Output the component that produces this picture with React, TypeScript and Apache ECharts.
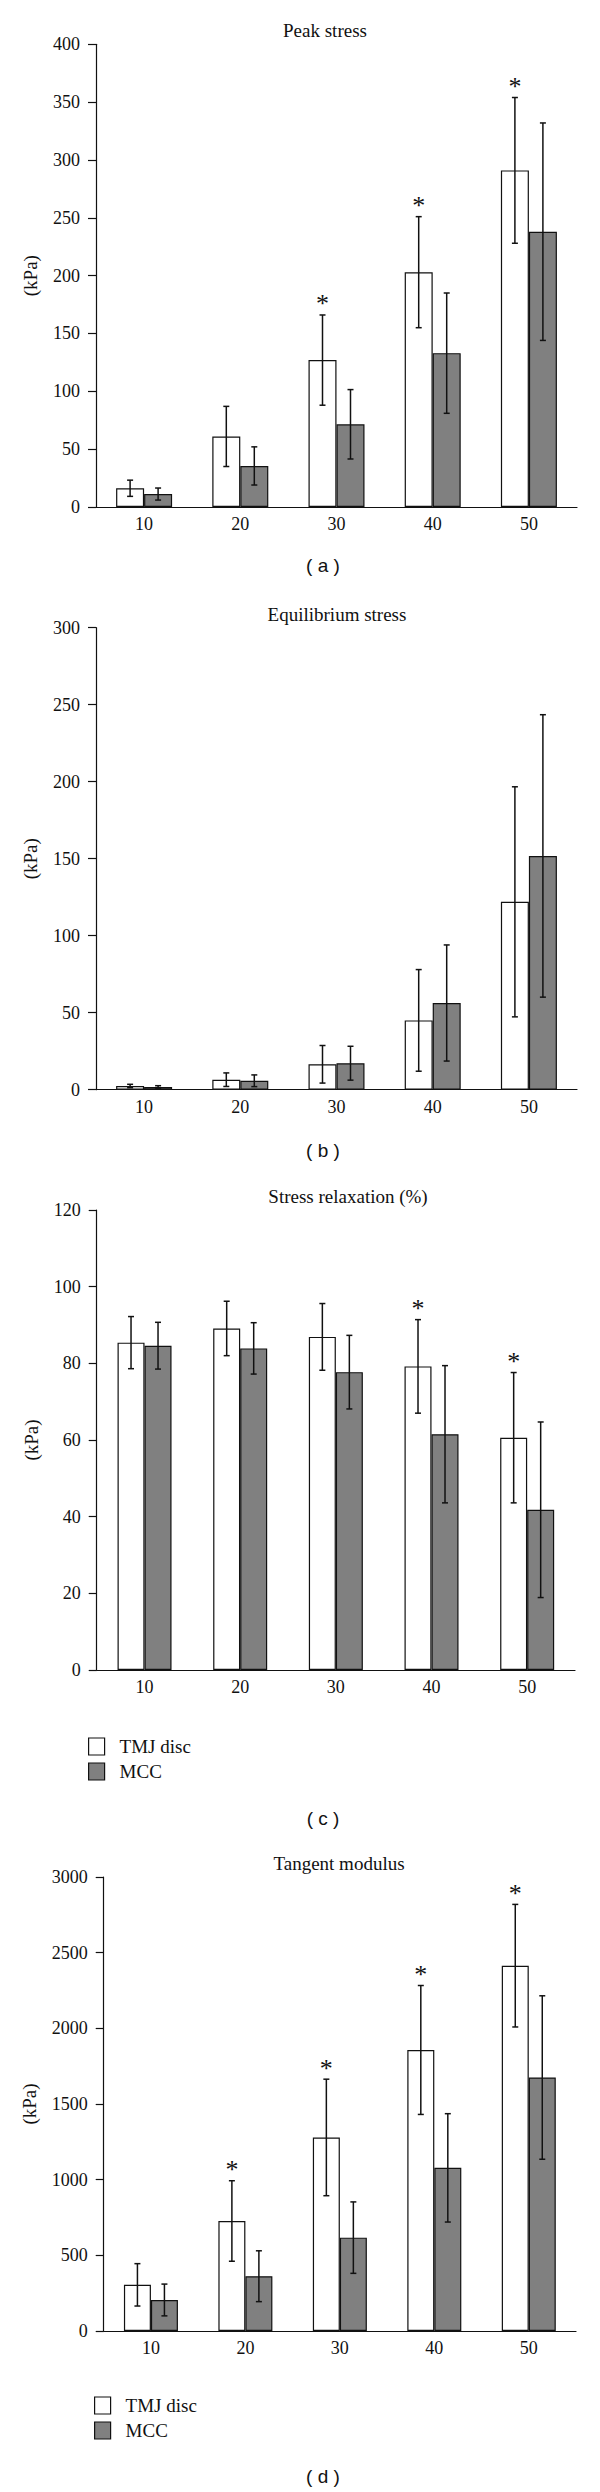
import React, { useEffect, useRef } from "react";
import * as echarts from "echarts";

// ---- data ----
const categories = ["10", "20", "30", "40", "50"];

const peakTMJ = [16.2, 61, 127, 203, 291];
const peakTMJSd = [7, 26, 39, 48, 63];
const peakMCC = [11.2, 35.5, 71.5, 133, 238];
const peakMCCSd = [5.2, 16.5, 30, 52, 94];
const peakStars = [0, 0, 1, 1, 1];

const eqTMJ = [2.4, 6.5, 16.5, 45, 122];
const eqTMJSd = [1.1, 4.4, 12.2, 33, 74.7];
const eqMCC = [1.7, 5.8, 17.2, 56.3, 151.8];
const eqMCCSd = [0.9, 3.8, 11, 37.7, 91.7];
const eqStars = [0, 0, 0, 0, 0];

const relTMJ = [85.4, 89.1, 86.9, 79.2, 60.6];
const relTMJSd = [6.8, 7.1, 8.7, 12.2, 17];
const relMCC = [84.6, 83.9, 77.7, 61.5, 41.8];
const relMCCSd = [6.1, 6.7, 9.6, 17.9, 22.9];
const relStars = [0, 0, 0, 1, 1];

const tanTMJ = [305, 727, 1279, 1857, 2414];
const tanTMJSd = [140, 266, 385, 426, 405];
const tanMCC = [205, 362, 617, 1078, 1675];
const tanMCCSd = [105, 168, 236, 358, 540];
const tanStars = [0, 1, 1, 1, 1];

const titles = ["Peak stress", "Equilibrium stress", "Stress relaxation (%)", "Tangent modulus"];
const panelLabels = ["( a )", "( b )", "( c )", "( d )"];
const yMax = [400, 300, 120, 3000];
const yInterval = [50, 50, 20, 500];
const seriesNames = ["TMJ disc", "MCC"];

// ---- layout ----
const SERIF = '"Liberation Serif", "Times New Roman", serif';
const SANS = '"Liberation Sans", Arial, sans-serif';
const INK = "#111111";

const panels = [
  { tmj: peakTMJ, tmjSd: peakTMJSd, mcc: peakMCC, mccSd: peakMCCSd, stars: peakStars,
    grid: { left: 96, width: 481, top: 44.3, height: 462.7 }, titleX: 325, titleY: 30, labelY: 565, nameGap: 56, barW: 28 },
  { tmj: eqTMJ, tmjSd: eqTMJSd, mcc: eqMCC, mccSd: eqMCCSd, stars: eqStars,
    grid: { left: 96, width: 481, top: 627.7, height: 462 }, titleX: 337, titleY: 614, labelY: 1150, nameGap: 56, barW: 28 },
  { tmj: relTMJ, tmjSd: relTMJSd, mcc: relMCC, mccSd: relMCCSd, stars: relStars,
    grid: { left: 96.7, width: 478.3, top: 1210, height: 460 }, titleX: 348, titleY: 1196, labelY: 1818, nameGap: 56, barW: 27 },
  { tmj: tanTMJ, tmjSd: tanTMJSd, mcc: tanMCC, mccSd: tanMCCSd, stars: tanStars,
    grid: { left: 103.7, width: 472.3, top: 1877, height: 454 }, titleX: 339, titleY: 1863, labelY: 2476, nameGap: 65, barW: 27 },
];

function errSeries(gi: number, means: number[], sds: number[], stars: number[], sign: number, barW: number) {
  return {
    type: "custom",
    xAxisIndex: gi,
    yAxisIndex: gi,
    z: 10,
    silent: true,
    encode: { x: 0, y: 1 },
    data: means.map((m, i) => [i, m, sds[i], stars[i]]),
    renderItem: (params: any, api: any) => {
      const i = api.value(0);
      const m = api.value(1);
      const sd = api.value(2);
      const st = api.value(3);
      const x = api.coord([i, m])[0] + (sign * barW) / 2;
      const yT = api.coord([i, m + sd])[1];
      const yB = api.coord([i, Math.max(m - sd, 0)])[1];
      const cap = 3;
      const style = { stroke: INK, lineWidth: 1.5 };
      const children: any[] = [
        { type: "line", shape: { x1: x, y1: yT, x2: x, y2: yB }, style },
        { type: "line", shape: { x1: x - cap, y1: yT, x2: x + cap, y2: yT }, style },
        { type: "line", shape: { x1: x - cap, y1: yB, x2: x + cap, y2: yB }, style },
      ];
      if (st) {
        children.push({
          type: "text",
          x: x,
          y: yT - 11,
          style: { text: "*", fontSize: 26, fontFamily: SERIF, fill: INK, align: "center", verticalAlign: "middle" },
        });
      }
      return { type: "group", children };
    },
  };
}

export default function App() {
  const ref = useRef<HTMLDivElement>(null);
  useEffect(() => {
    if (!ref.current) return;
    const chart = echarts.init(ref.current, null, { renderer: "svg" });

    const grid = panels.map((p) => ({ ...p.grid }));
    const xAxis = panels.map((p, gi) => ({
      type: "category",
      gridIndex: gi,
      data: categories,
      axisLine: { show: true, lineStyle: { color: INK, width: 1.2 } },
      axisTick: { show: false },
      axisLabel: { margin: 8, fontFamily: SERIF, fontSize: 18, color: INK },
    }));
    const yAxis = panels.map((p, gi) => ({
      type: "value",
      gridIndex: gi,
      min: 0,
      max: yMax[gi],
      interval: yInterval[gi],
      name: "(kPa)",
      nameLocation: "middle",
      nameGap: p.nameGap,
      nameTextStyle: { fontFamily: SERIF, fontSize: 19, color: INK },
      axisLine: { show: true, lineStyle: { color: INK, width: 1.2 } },
      axisTick: { show: true, length: 8, lineStyle: { color: INK, width: 1.2 } },
      axisLabel: {
        margin: 16,
        fontFamily: SERIF,
        fontSize: 18,
        color: INK,
        formatter: (v: number) => String(v),
      },
      splitLine: { show: false },
    }));

    const series: any[] = [];
    panels.forEach((p, gi) => {
      series.push({
        type: "bar",
        name: seriesNames[0],
        xAxisIndex: gi,
        yAxisIndex: gi,
        data: p.tmj,
        barWidth: p.barW,
        barGap: "0%",
        itemStyle: { color: "#ffffff", borderColor: INK, borderWidth: 1.2 },
        silent: true,
      });
      series.push({
        type: "bar",
        name: seriesNames[1],
        xAxisIndex: gi,
        yAxisIndex: gi,
        data: p.mcc,
        barWidth: p.barW,
        barGap: "0%",
        itemStyle: { color: "#808080", borderColor: INK, borderWidth: 1.2 },
        silent: true,
      });
      series.push(errSeries(gi, p.tmj, p.tmjSd, p.stars, -1, p.barW));
      series.push(errSeries(gi, p.mcc, p.mccSd, [0, 0, 0, 0, 0], 1, p.barW));
    });

    const title: any[] = [];
    panels.forEach((p, gi) => {
      title.push({
        text: titles[gi],
        left: p.titleX,
        top: p.titleY,
        textAlign: "center",
        textVerticalAlign: "middle",
        padding: 0,
        textStyle: { fontFamily: SERIF, fontSize: 19, fontWeight: "normal", color: INK },
      });
      title.push({
        text: panelLabels[gi],
        left: 323,
        top: p.labelY,
        textAlign: "center",
        textVerticalAlign: "middle",
        padding: 0,
        textStyle: { fontFamily: SANS, fontSize: 19, fontWeight: "normal", color: INK },
      });
    });

    const legendData = [
      { name: seriesNames[0], itemStyle: { color: "#ffffff", borderColor: INK, borderWidth: 1.2 } },
      { name: seriesNames[1], itemStyle: { color: "#808080", borderColor: INK, borderWidth: 1.2 } },
    ];
    const legendBase = {
      orient: "vertical",
      icon: "rect",
      itemWidth: 16,
      itemHeight: 17,
      itemGap: 6,
      padding: 0,
      selectedMode: false,
      data: legendData,
      textStyle: { fontFamily: SERIF, fontSize: 19, color: INK, padding: [0, 0, 0, 10] },
    };

    chart.setOption({
      animation: false,
      backgroundColor: "#ffffff",
      title,
      legend: [
        { ...legendBase, left: 88, top: 1737 },
        { ...legendBase, left: 94, top: 2396 },
      ],
      grid,
      xAxis,
      yAxis,
      series,
    });
    return () => chart.dispose();
  }, []);

  return (
    <div
      ref={ref}
      style={{ position: "absolute", left: 0, top: 0, width: 600, height: 2492, background: "#fff" }}
    />
  );
}
